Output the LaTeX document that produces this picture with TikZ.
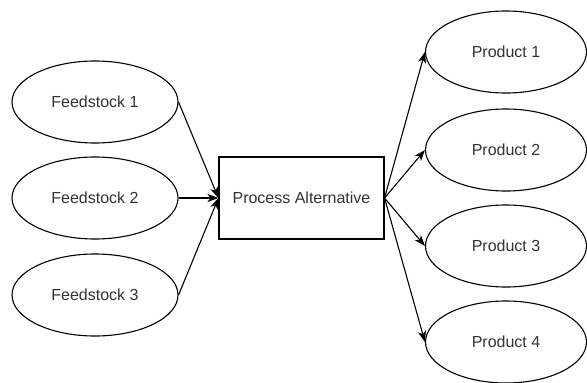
\documentclass[tikz,border=0pt]{standalone}
\usepackage{fontspec}
\setmainfont{Liberation Sans}
\usetikzlibrary{shapes.geometric,arrows.meta}
\begin{document}
\begin{tikzpicture}[x=1pt,y=-1pt,
  every node/.style={font=\fontsize{16}{19}\selectfont,text=black!80},
  oval/.style={draw,line width=1.1pt,ellipse,inner sep=0pt,minimum width=166pt,minimum height=82pt},
  poval/.style={oval,minimum width=161pt},
  box/.style={draw,line width=1.1pt,rectangle,inner sep=0pt,minimum width=165pt,minimum height=82pt},
  conn/.style={line width=1.1pt,-{Stealth[length=11pt,width=8pt,inset=3pt]}}]
\useasboundingbox (0,0) rectangle (587,383);
\node[oval] (f1) at (95,102) {Feedstock 1};
\node[oval] (f2) at (95,198) {Feedstock 2};
\node[oval] (f3) at (95,295) {Feedstock 3};
\node[box] (p) at (301.5,198) {Process Alternative};
\node[poval] (o1) at (506,52) {Product 1};
\node[poval] (o2) at (506,150) {Product 2};
\node[poval] (o3) at (506,246) {Product 3};
\node[poval] (o4) at (506,342) {Product 4};
\draw[conn] (f1.east) -- (p.west);
\draw[conn] (f2.east) -- (p.west);
\draw[conn] (f3.east) -- (p.west);
\draw[conn] (p.east) -- (o1.west);
\draw[conn] (p.east) -- (o2.west);
\draw[conn] (p.east) -- (o3.west);
\draw[conn] (p.east) -- (o4.west);
\end{tikzpicture}
\end{document}
